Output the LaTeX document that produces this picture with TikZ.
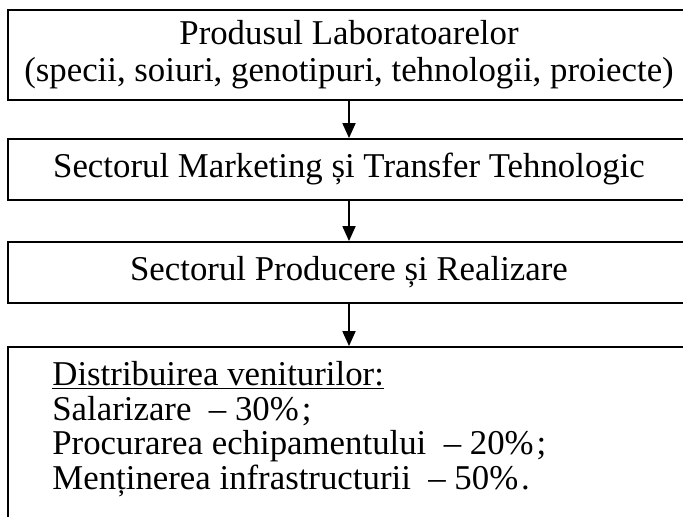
\documentclass[tikz,border=0pt]{standalone}
\usepackage{fontspec}
\setmainfont{Liberation Serif}
\usetikzlibrary{
  arrows.meta,
  positioning,
}

\tikzset{
  blok/.style={draw, line width=0.9pt, minimum width=341pt, inner sep=0pt,
    align=center, font=\fontsize{17.4}{18.5}\selectfont},
  sageata/.style={line width=0.9pt, -{Triangle[length=7.5pt,width=6.5pt]}},
}

\begin{document}
\begin{tikzpicture}[x=0.5pt,y=-0.5pt]
  \useasboundingbox (0,0) rectangle (683,517);
  \clip (0,0) rectangle (683,517);

  \node[blok, minimum height=45pt] (lab) at (349,55)
    {Produsul Laboratoarelor\\(specii, soiuri, genotipuri, tehnologii, proiecte)};
  \node[blok, minimum height=30.5pt] (mkt) at (349,169.5)
    {Sectorul Marketing și Transfer Tehnologic};
  \node[blok, minimum height=30.5pt] (prod) at (349,272.5)
    {Sectorul Producere și Realizare};
  \node[blok, minimum height=110pt] (dist) at (349,457) {};

  \node[anchor=north west, align=left, inner sep=0pt,
    font=\fontsize{17.4}{17.3}\selectfont] (venit) at (52,361)
    {\underline{Distribuirea veniturilor:}\\
     Salarizare~ -- 30\%\kern1.5pt;\\
     Procurarea echipamentului~ -- 20\%\kern1.5pt;\\
     Menținerea infrastructurii~ -- 50\%\kern1.5pt.};

  \draw[sageata] (lab) -- (mkt);
  \draw[sageata] (mkt) -- (prod);
  \draw[sageata] (prod) -- (dist);
\end{tikzpicture}
\end{document}
